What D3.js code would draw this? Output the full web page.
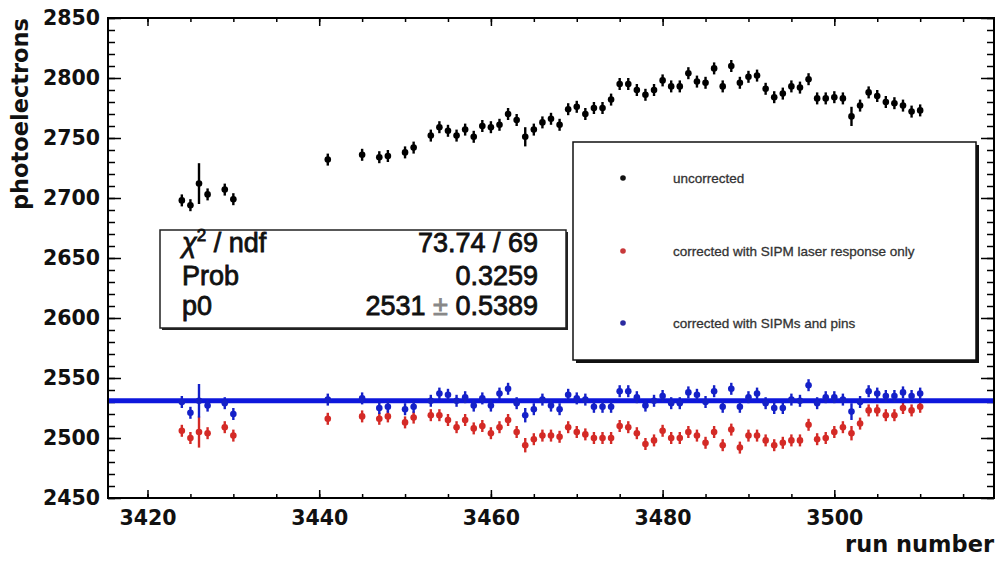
<!DOCTYPE html>
<html>
<head>
<meta charset="utf-8">
<script src="https://cdn.jsdelivr.net/npm/d3@7"></script>
<style>
  body { margin: 0; background: #fff; }
  svg { display: block; }
</style>
</head>
<body>
<svg id="chart" width="997" height="563"></svg>
<script>
// run numbers that have data
var runs = [3424, 3425, 3426, 3427, 3429, 3430, 3441, 3445, 3447, 3448, 3450, 3451,
  3453, 3454, 3455, 3456, 3457, 3458, 3459, 3460, 3461, 3462,
  3463, 3464, 3465, 3466, 3467, 3468, 3469, 3470, 3471, 3472,
  3473, 3474, 3475, 3476, 3477, 3478, 3479, 3480, 3481, 3482,
  3483, 3484, 3485, 3486, 3487, 3488, 3489, 3490, 3491, 3492,
  3493, 3494, 3495, 3496, 3497, 3498, 3499, 3500, 3501, 3502,
  3503, 3504, 3505, 3506, 3507, 3508, 3509, 3510];

var uncorrected = [2698, 2694, 2712, 2703, 2707, 2699, 2732, 2736, 2734, 2735, 2738, 2742,
  2752, 2759, 2756, 2752, 2757, 2751, 2760, 2759, 2761, 2770,
  2765, 2751, 2757, 2763, 2766, 2761, 2774, 2776, 2770, 2775,
  2775, 2782, 2795, 2795, 2790, 2786, 2790, 2798, 2793, 2793,
  2804, 2797, 2796, 2808, 2793, 2810, 2796, 2801, 2802, 2791,
  2784, 2787, 2793, 2792, 2799, 2783, 2783, 2784, 2783, 2768,
  2777, 2788, 2785, 2780, 2779, 2777, 2772, 2773];
var uncorrectedErr = [5, 5, 17, 5, 5, 5, 5, 5, 5, 5, 5, 5,
  5, 5, 5, 5, 5, 5, 5, 5, 5, 5,
  5, 8, 5, 5, 5, 5, 5, 5, 5, 5,
  5, 5, 5, 5, 5, 5, 5, 5, 5, 5,
  5, 5, 5, 5, 5, 5, 5, 5, 5, 5,
  5, 5, 5, 5, 5, 5, 5, 5, 5, 8,
  5, 5, 5, 5, 5, 5, 5, 5];

var laserOnly = [2506, 2500, 2505, 2504, 2509, 2502, 2516, 2518, 2516, 2518, 2513, 2517,
  2519, 2519, 2515, 2509, 2515, 2508, 2510, 2504, 2509, 2515,
  2505, 2494, 2499, 2502, 2502, 2501, 2509, 2505, 2503, 2500,
  2500, 2500, 2510, 2509, 2504, 2495, 2498, 2506, 2500, 2500,
  2505, 2502, 2496, 2505, 2494, 2507, 2492, 2502, 2502, 2498,
  2494, 2496, 2498, 2498, 2511, 2499, 2500, 2505, 2509, 2504,
  2512, 2523, 2523, 2519, 2519, 2525, 2523, 2526];
var laserOnlyErr = [5, 5, 13, 5, 5, 5, 5, 5, 5, 5, 5, 5,
  5, 5, 5, 5, 5, 5, 5, 5, 5, 5,
  5, 6, 5, 5, 5, 5, 5, 5, 5, 5,
  5, 5, 5, 5, 5, 5, 5, 5, 5, 5,
  5, 5, 5, 5, 5, 5, 5, 5, 5, 5,
  5, 5, 5, 5, 5, 5, 5, 5, 5, 6,
  5, 5, 5, 5, 5, 5, 5, 5];

var sipmPins = [2530, 2521, 2531, 2527, 2529, 2520, 2532, 2533, 2525, 2526, 2524, 2526,
  2531, 2537, 2536, 2531, 2534, 2527, 2533, 2527, 2537, 2541,
  2529, 2519, 2524, 2532, 2527, 2524, 2536, 2533, 2532, 2526,
  2526, 2526, 2539, 2539, 2534, 2527, 2531, 2535, 2529, 2529,
  2538, 2536, 2530, 2539, 2526, 2541, 2526, 2534, 2537, 2529,
  2525, 2525, 2532, 2531, 2544, 2529, 2534, 2534, 2532, 2522,
  2530, 2539, 2537, 2535, 2535, 2538, 2535, 2537];
var sipmPinsErr = [5, 5, 14, 5, 5, 5, 5, 5, 5, 5, 5, 5,
  5, 5, 5, 5, 5, 5, 5, 5, 5, 5,
  5, 6, 5, 5, 5, 5, 5, 5, 5, 5,
  5, 5, 5, 5, 5, 5, 5, 5, 5, 5,
  5, 5, 5, 5, 5, 5, 5, 5, 5, 5,
  5, 5, 5, 5, 5, 5, 5, 5, 5, 7,
  5, 5, 5, 5, 5, 5, 5, 5];

var fitP0 = 2531;
var statLabels = ['Prob', 'p0'];
var statValues = ['73.74 / 69', '0.3259'];
var legendLabels = ['uncorrected', 'corrected with SIPM laser response only', 'corrected with SIPMs and pins'];
var legendColors = ['#111', '#c8383a', '#2a2aa0'];

var xTicks = [3420, 3440, 3460, 3480, 3500];
var yTicks = [2450, 2500, 2550, 2600, 2650, 2700, 2750, 2800, 2850];

var svg = d3.select('#chart');
var frameL = 108, frameR = 994, frameT = 18, frameB = 498;

var x = d3.scaleLinear().domain([3415.4, 3518.6]).range([frameL, frameR]);
var y = d3.scaleLinear().domain([2450, 2850]).range([frameB, frameT]);

var tickFont = 'DejaVu Sans';

function styleAxis(g) {
  g.select('.domain').remove();
  g.selectAll('line').attr('stroke', '#000').attr('stroke-width', 1.5);
  g.selectAll('text').attr('font-family', tickFont).attr('font-weight', 'bold')
    .attr('font-size', 20.5).attr('fill', '#111');
}

// minor ticks first
svg.append('g').attr('transform', 'translate(0,' + frameB + ')')
  .call(d3.axisBottom(x).tickValues(d3.range(3420, 3520, 5)).tickSize(-4).tickFormat(''))
  .call(styleAxis);
svg.append('g').attr('transform', 'translate(0,' + frameT + ')')
  .call(d3.axisTop(x).tickValues(d3.range(3420, 3520, 5)).tickSize(-4).tickFormat(''))
  .call(styleAxis);
svg.append('g').attr('transform', 'translate(' + frameL + ',0)')
  .call(d3.axisLeft(y).tickValues(d3.range(2450, 2851, 10)).tickSize(-7).tickFormat(''))
  .call(styleAxis);
svg.append('g').attr('transform', 'translate(' + frameR + ',0)')
  .call(d3.axisRight(y).tickValues(d3.range(2450, 2851, 10)).tickSize(-7).tickFormat(''))
  .call(styleAxis);

// major ticks
svg.append('g').attr('transform', 'translate(0,' + frameB + ')')
  .call(d3.axisBottom(x).tickValues(xTicks).tickSize(-8).tickPadding(12.5).tickFormat(d3.format('d')))
  .call(styleAxis);
svg.append('g').attr('transform', 'translate(0,' + frameT + ')')
  .call(d3.axisTop(x).tickValues(xTicks).tickSize(-8).tickFormat(''))
  .call(styleAxis);
svg.append('g').attr('transform', 'translate(' + frameL + ',0)')
  .call(d3.axisLeft(y).tickValues(yTicks).tickSize(-13).tickPadding(8).tickFormat(d3.format('d')))
  .call(styleAxis);
svg.append('g').attr('transform', 'translate(' + frameR + ',0)')
  .call(d3.axisRight(y).tickValues(yTicks).tickSize(-13).tickFormat(''))
  .call(styleAxis);

// frame
svg.append('rect').attr('x', frameL).attr('y', frameT)
  .attr('width', frameR - frameL).attr('height', frameB - frameT)
  .attr('fill', 'none').attr('stroke', '#000').attr('stroke-width', 2);

// axis titles
svg.append('text').attr('transform', 'translate(28,' + frameT + ') rotate(-90)')
  .attr('text-anchor', 'end').attr('font-family', tickFont).attr('font-weight', 'bold')
  .attr('font-size', 22.5).attr('fill', '#111').text('photoelectrons');
svg.append('text').attr('x', frameR).attr('y', 552)
  .attr('text-anchor', 'end').attr('font-family', tickFont).attr('font-weight', 'bold')
  .attr('font-size', 22.5).attr('fill', '#111').text('run number');

function drawSeries(values, errs, color) {
  var pts = runs.map(function(r, i) { return {run: r, v: values[i], e: errs[i]}; });
  var g = svg.append('g');
  g.selectAll('line').data(pts).enter().append('line')
    .attr('x1', function(d) { return x(d.run); })
    .attr('x2', function(d) { return x(d.run); })
    .attr('y1', function(d) { return y(d.v - d.e); })
    .attr('y2', function(d) { return y(d.v + d.e); })
    .attr('stroke', color).attr('stroke-width', 2.4);
  g.selectAll('circle').data(pts).enter().append('circle')
    .attr('cx', function(d) { return x(d.run); })
    .attr('cy', function(d) { return y(d.v); })
    .attr('r', 3.3).attr('fill', color);
}

drawSeries(uncorrected, uncorrectedErr, '#000');
drawSeries(laserOnly, laserOnlyErr, '#d42a26');

// constant fit
svg.append('line').attr('x1', frameL + 1).attr('x2', frameR - 1)
  .attr('y1', y(fitP0)).attr('y2', y(fitP0))
  .attr('stroke', '#0d17dc').attr('stroke-width', 5);

drawSeries(sipmPins, sipmPinsErr, '#1420c8');

// stats box
var sb = {x: 160, y: 230, w: 406, h: 98};
svg.append('rect').attr('x', sb.x + 2).attr('y', sb.y + 2).attr('width', sb.w).attr('height', sb.h).attr('fill', '#222');
svg.append('rect').attr('x', sb.x).attr('y', sb.y).attr('width', sb.w).attr('height', sb.h)
  .attr('fill', '#fff').attr('stroke', '#222').attr('stroke-width', 1.5);

var statFont = 'Liberation Sans';
var rowY = [252, 285, 315];
var chi = svg.append('text').attr('x', 182).attr('y', rowY[0])
  .attr('font-family', statFont).attr('font-size', 27).attr('fill', '#111')
  .attr('stroke', '#111').attr('stroke-width', 0.8);
chi.append('tspan').attr('font-style', 'italic').text('\u03c7');
chi.append('tspan').attr('font-size', 17).attr('dy', -11).text('2');
chi.append('tspan').attr('dy', 11).text(' / ndf');

svg.selectAll('.statlabel').data(statLabels).enter().append('text')
  .attr('class', 'statlabel')
  .attr('x', 182).attr('y', function(d, i) { return rowY[i + 1]; })
  .attr('font-family', statFont).attr('font-size', 27).attr('fill', '#111')
  .attr('stroke', '#111').attr('stroke-width', 0.8)
  .text(function(d) { return d; });

svg.selectAll('.statvalue').data(statValues).enter().append('text')
  .attr('class', 'statvalue')
  .attr('x', 538).attr('y', function(d, i) { return rowY[i]; })
  .attr('text-anchor', 'end')
  .attr('font-family', statFont).attr('font-size', 27).attr('fill', '#111')
  .attr('stroke', '#111').attr('stroke-width', 0.8)
  .text(function(d) { return d; });

var p0 = svg.append('text').attr('x', 538).attr('y', rowY[2]).attr('text-anchor', 'end')
  .attr('font-family', statFont).attr('font-size', 27).attr('fill', '#111')
  .attr('stroke', '#111').attr('stroke-width', 0.8);
p0.append('tspan').text(fitP0 + ' ');
p0.append('tspan').attr('fill', '#888').attr('stroke', '#888').text('\u00b1');
p0.append('tspan').text(' 0.5389');

// legend
var lg = {x: 573, y: 142, w: 403, h: 218};
svg.append('rect').attr('x', lg.x + 3).attr('y', lg.y + 3).attr('width', lg.w).attr('height', lg.h).attr('fill', '#111');
svg.append('rect').attr('x', lg.x).attr('y', lg.y).attr('width', lg.w).attr('height', lg.h)
  .attr('fill', '#fff').attr('stroke', '#111').attr('stroke-width', 1.5);

var legendY = [178, 251, 323];
var lgItems = svg.selectAll('.lg').data(legendLabels).enter().append('g').attr('class', 'lg');
lgItems.append('circle').attr('cx', 623).attr('cy', function(d, i) { return legendY[i]; })
  .attr('r', 2.8).attr('fill', function(d, i) { return legendColors[i]; });
lgItems.append('text').attr('x', 673).attr('y', function(d, i) { return legendY[i]; })
  .attr('dy', '0.35em').attr('font-family', statFont).attr('font-size', 13.5)
  .attr('fill', '#333').attr('stroke', '#333').attr('stroke-width', 0.3)
  .text(function(d) { return d; });
</script>
</body>
</html>
